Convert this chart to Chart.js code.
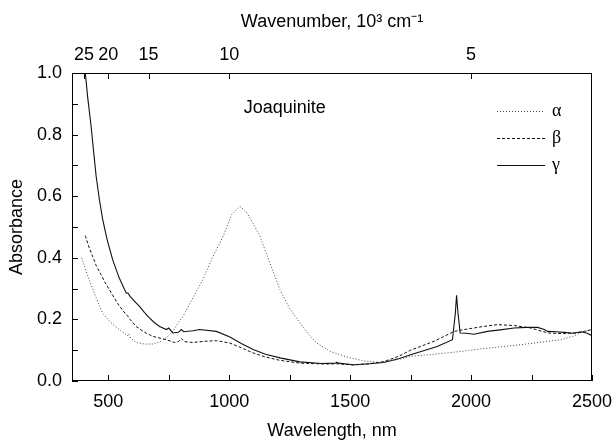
<!DOCTYPE html>
<html>
<head>
<meta charset="utf-8">
<script src="https://cdn.jsdelivr.net/npm/chart.js@4.4.1/dist/chart.umd.min.js"></script>
<style>
  html, body { margin: 0; padding: 0; background: #fff; }
  #wrap { width: 615px; height: 442px; position: relative; }
</style>
</head>
<body>
<div id="wrap"><canvas id="c" width="615" height="442"></canvas></div>
<script>
// ---- data ----
const alphaNm  = [390,405,420,435,450,463,477,495,510,546,575,579,584,592,615,650,684,715,740,770,790,809,850,892,930,975,1010,1044,1070,1100,1127,1160,1210,1250,1293,1330,1362,1420,1500,1560,1625,1700,1750,1850,1958,2050,2206,2300,2372,2420,2455,2500];
const alphaAbs = [0.40,0.365,0.33,0.30,0.27,0.245,0.22,0.203,0.19,0.167,0.150,0.146,0.153,0.140,0.125,0.120,0.120,0.128,0.140,0.165,0.190,0.210,0.270,0.330,0.400,0.470,0.540,0.567,0.550,0.510,0.470,0.400,0.296,0.235,0.188,0.150,0.123,0.095,0.075,0.065,0.060,0.070,0.080,0.087,0.096,0.105,0.118,0.127,0.134,0.145,0.157,0.167];

const betaNm  = [405,420,435,450,470,490,505,540,574,580,590,615,650,684,740,774,790,802,815,850,900,947,1003,1050,1099,1150,1210,1293,1400,1445,1514,1580,1639,1700,1750,1850,1930,1971,2050,2109,2180,2247,2317,2372,2440,2500];
const betaAbs = [0.472,0.435,0.405,0.375,0.345,0.315,0.296,0.250,0.215,0.212,0.200,0.177,0.158,0.145,0.134,0.125,0.128,0.138,0.128,0.125,0.129,0.131,0.123,0.108,0.091,0.078,0.067,0.058,0.055,0.056,0.052,0.056,0.063,0.080,0.100,0.130,0.161,0.167,0.177,0.183,0.180,0.172,0.156,0.154,0.156,0.167];

const gammaNm  = [398,405,415,429,440,450,463,477,495,518,545,574,582,590,610,629,650,670,690,712,740,750,767,790,802,812,850,878,947,1003,1050,1099,1150,1210,1293,1380,1440,1445,1450,1514,1580,1639,1700,1750,1860,1923,1935,1940,1946,1955,1980,2012,2068,2120,2178,2230,2275,2300,2317,2350,2386,2420,2455,2480,2500];
const gammaAbs = [1.05,1.00,0.92,0.827,0.74,0.664,0.59,0.524,0.46,0.394,0.335,0.286,0.285,0.275,0.258,0.242,0.222,0.205,0.19,0.177,0.167,0.172,0.156,0.158,0.167,0.160,0.163,0.167,0.161,0.143,0.122,0.102,0.087,0.075,0.062,0.057,0.058,0.061,0.058,0.053,0.056,0.060,0.072,0.085,0.112,0.134,0.220,0.278,0.220,0.156,0.155,0.152,0.161,0.166,0.172,0.174,0.174,0.168,0.161,0.160,0.158,0.155,0.160,0.155,0.147];

const seriesNames = ['α', 'β', 'γ'];
const bottomTicks = [500, 750, 1000, 1250, 1500, 1750, 2000, 2250, 2500];
const wavenumberTicks = [25, 20, 15, 10, 5]; // 10^3 cm^-1
const chartTitle = 'Joaquinite';

// ---- helpers ----
const toXY = (xs, ys) => xs.map((x, i) => ({ x: x, y: ys[i] }));
const FONT = '"Liberation Sans", Arial, Helvetica, sans-serif';
const SERIF = '"Liberation Serif", "Times New Roman", serif';
const FS = 18;
const dashes = [[1, 2], [3, 2], []];
const colors = ['#444', '#111', '#111'];

const inwardTicks = {
  id: 'inwardTicks',
  afterDraw(chart) {
    const ctx = chart.ctx;
    const a = chart.chartArea;
    ctx.save();
    ctx.strokeStyle = '#000';
    ctx.lineWidth = 1;
    // frame
    ctx.strokeRect(Math.round(a.left) + 0.5, Math.round(a.top) + 0.5,
                   Math.round(a.right - a.left) - 1, Math.round(a.bottom - a.top) - 1);
    const len = 6;
    ctx.beginPath();
    chart.scales.x.ticks.forEach(t => {
      const px = Math.round(chart.scales.x.getPixelForValue(t.value)) + 0.5;
      ctx.moveTo(px, a.bottom); ctx.lineTo(px, a.bottom - len);
    });
    chart.scales.xTop.ticks.forEach(t => {
      const px = Math.round(chart.scales.xTop.getPixelForValue(t.value)) + 0.5;
      ctx.moveTo(px, a.top); ctx.lineTo(px, a.top + len);
    });
    chart.scales.y.ticks.forEach(t => {
      const py = Math.round(chart.scales.y.getPixelForValue(t.value)) + 0.5;
      ctx.moveTo(a.left, py); ctx.lineTo(a.left + len, py);
    });
    ctx.stroke();

    // inner title
    ctx.fillStyle = '#000';
    ctx.font = FS + 'px ' + FONT;
    ctx.textAlign = 'center';
    ctx.textBaseline = 'middle';
    const xs = chart.scales.x, ys = chart.scales.y;
    ctx.fillText(chartTitle, xs.getPixelForValue(1230), ys.getPixelForValue(0.885));

    // legend
    const legX1 = 497, legX2 = 545;
    const legY = [ys.getPixelForValue(0.877), ys.getPixelForValue(0.79), ys.getPixelForValue(0.70)];
    chart.data.datasets.forEach((ds, i) => {
      ctx.beginPath();
      ctx.setLineDash(dashes[i]);
      ctx.strokeStyle = colors[i];
      ctx.lineWidth = 1;
      const yy = Math.round(legY[i]) + 0.5;
      ctx.moveTo(legX1, yy); ctx.lineTo(legX2, yy);
      ctx.stroke();
      ctx.setLineDash([]);
      ctx.fillStyle = '#000';
      ctx.font = FS + 'px ' + SERIF;
      ctx.textAlign = 'left';
      ctx.fillText(ds.label, legX2 + 7, yy);
    });
    ctx.restore();
  }
};

const noSidePad = s => { s.paddingLeft = 0; s.paddingRight = 0; };

new Chart(document.getElementById('c'), {
  type: 'line',
  data: {
    datasets: [
      { label: seriesNames[0], data: toXY(alphaNm, alphaAbs), borderColor: colors[0], borderDash: dashes[0], borderWidth: 1, pointRadius: 0, tension: 0, xAxisID: 'x' },
      { label: seriesNames[1], data: toXY(betaNm, betaAbs), borderColor: colors[1], borderDash: dashes[1], borderWidth: 1, pointRadius: 0, tension: 0, xAxisID: 'x' },
      { label: seriesNames[2], data: toXY(gammaNm, gammaAbs), borderColor: colors[2], borderDash: dashes[2], borderWidth: 1.1, pointRadius: 0, tension: 0, xAxisID: 'x' }
    ]
  },
  options: {
    responsive: false,
    animation: false,
    layout: { padding: { left: 0, right: 23, top: 0, bottom: 0 } },
    plugins: { legend: { display: false }, tooltip: { enabled: false } },
    scales: {
      x: {
        type: 'linear', position: 'bottom', min: 350, max: 2500,
        afterBuildTicks: s => { s.ticks = bottomTicks.map(v => ({ value: v })); },
        afterFit: s => { s.height = 61; noSidePad(s); },
        grid: { display: false, drawTicks: false },
        border: { display: false },
        ticks: {
          color: '#000', padding: 10, maxRotation: 0, autoSkip: false,
          font: { family: FONT, size: FS },
          callback: v => (v % 500 === 0 ? String(v) : '')
        },
        title: { display: true, text: 'Wavelength, nm', color: '#000', font: { family: FONT, size: FS }, padding: { top: 0, bottom: 0 } }
      },
      xTop: {
        type: 'linear', position: 'top', min: 350, max: 2500,
        afterBuildTicks: s => { s.ticks = wavenumberTicks.map(k => ({ value: 1e7 / (k * 1000) })); },
        afterFit: s => { s.height = 73; noSidePad(s); },
        grid: { display: false, drawTicks: false },
        border: { display: false },
        ticks: {
          color: '#000', padding: 7, maxRotation: 0, autoSkip: false,
          font: { family: FONT, size: FS },
          callback: v => String(Math.round(1e4 / v))
        },
        title: { display: true, text: 'Wavenumber, 10³ cm⁻¹', color: '#000', font: { family: FONT, size: FS }, padding: { top: 11, bottom: 0 } }
      },
      y: {
        type: 'linear', min: 0, max: 1.0,
        afterBuildTicks: s => { const t = []; for (let i = 0; i <= 10; i++) t.push({ value: i / 10 }); s.ticks = t; },
        afterFit: s => { s.width = 72; s.paddingTop = 0; s.paddingBottom = 0; },
        grid: { display: false, drawTicks: false },
        border: { display: false },
        ticks: {
          color: '#000', padding: 10, autoSkip: false,
          font: { family: FONT, size: FS },
          callback: v => (Math.round(v * 10) % 2 === 0 ? v.toFixed(1) : '')
        },
        title: { display: true, text: 'Absorbance', color: '#000', font: { family: FONT, size: FS }, padding: { top: 6, bottom: 0 } }
      }
    }
  },
  plugins: [inwardTicks]
});
</script>
</body>
</html>
